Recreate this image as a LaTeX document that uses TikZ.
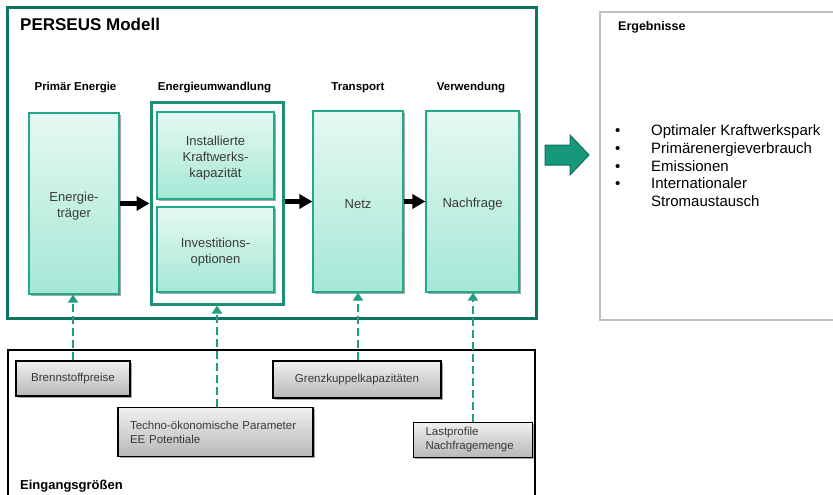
\documentclass[tikz,border=0pt]{standalone}
\usepackage{fontspec}
\setmainfont{Liberation Sans}
\usetikzlibrary{arrows.meta,shadows}

\definecolor{framegreen}{HTML}{0B7560}
\definecolor{boxedge}{HTML}{22A88A}
\definecolor{boxtop}{HTML}{E6F8F3}
\definecolor{boxbottom}{HTML}{A5E8D5}
\definecolor{dashgreen}{HTML}{1E9E84}
\definecolor{arrowfill}{HTML}{16997A}
\definecolor{arrowedge}{HTML}{0E6E57}
\definecolor{resultgray}{HTML}{BFBFBF}
\definecolor{boxtext}{HTML}{3A3A3A}

\tikzset{
  modelbox/.style={draw=boxedge, line width=1.2pt, top color=boxtop, bottom color=boxbottom,
    inner sep=0pt,
    drop shadow={shadow xshift=1.5pt, shadow yshift=-1.5pt, opacity=0.35, fill=black}},
  boxlabel/.style={inner sep=0pt, align=center, font=\fontsize{13}{16}\selectfont, text=boxtext, yshift=-2.5pt},
  groupbox/.style={draw=boxedge!85!black, line width=3pt, inner sep=0pt},
  inputbox/.style={draw=black, line width=1.2pt, top color=white!94!black, bottom color=white!72!black,
    inner sep=0pt, align=center, font=\fontsize{11.5}{14}\selectfont, text=boxtext,
    drop shadow={shadow xshift=1.5pt, shadow yshift=-1.5pt, opacity=0.35, fill=black}},
  header/.style={font=\fontsize{11.5}{14}\selectfont\bfseries, anchor=base},
  flow/.style={line width=4.5pt, -{Triangle[width=14pt,length=13pt]}},
  feed/.style={dashgreen, line width=1.8pt, dash pattern=on 8pt off 4pt,
    -{Triangle[width=10pt,length=8pt]}},
}

\begin{document}
\begin{tikzpicture}[x=1pt, y=-1pt]
\useasboundingbox (0,0) rectangle (833,495);

% model frame
\draw[framegreen, line width=3pt] (7,8) rectangle (536,318);
\node[anchor=base west, font=\fontsize{17}{20}\selectfont\bfseries, inner sep=0pt] (title) at (20,31) {PERSEUS Modell};

% column headers
\node[header] (hprim) at (75.5,90) {Primär Energie};
\node[header] (hconv) at (214.5,90) {Energieumwandlung};
\node[header] (htrans) at (358,90) {Transport};
\node[header] (huse) at (471,90) {Verwendung};

% model blocks
\node[modelbox, minimum width=90pt, minimum height=181pt] (carrier) at (74,203.5) {};
\node[groupbox, minimum width=132pt, minimum height=202pt] (group) at (217,203) {};
\node[modelbox, minimum width=117pt, minimum height=87pt] (capacity) at (215.5,155.5) {};
\node[modelbox, minimum width=117pt, minimum height=85pt] (invest) at (215.5,249.5) {};
\node[modelbox, minimum width=90pt, minimum height=181pt] (grid) at (358,201.5) {};
\node[modelbox, minimum width=93pt, minimum height=181pt] (demand) at (472.5,201.5) {};

\node[boxlabel] (carrier-text) at (carrier) {Energie-\\träger};
\node[boxlabel] (capacity-text) at (capacity) {Installierte\\Kraftwerks-\\kapazität};
\node[boxlabel] (invest-text) at (invest) {Investitions-\\optionen};
\node[boxlabel] (grid-text) at (grid) {Netz};
\node[boxlabel] (demand-text) at (demand) {Nachfrage};

% flow arrows
\draw[flow] (carrier.east) -- (group.west |- carrier.east);
\draw[flow] (group.east |- grid.west) -- (grid.west);
\draw[flow] (grid.east) -- (demand.west);

% results
\draw[resultgray, line width=2pt] (840,12) -- (600,12) -- (600,320) -- (840,320);
\node[anchor=base west, font=\fontsize{12.5}{15}\selectfont\bfseries, inner sep=0pt] (restitle) at (618,31) {Ergebnisse};
\node[anchor=north west, inner sep=0pt, font=\fontsize{15}{17.75}\selectfont] (reslist) at (615,123)
  {\begin{tabular}{@{}p{36pt}@{}l@{}}
   • & Optimaler Kraftwerkspark\\
   • & Primärenergieverbrauch\\
   • & Emissionen\\
   • & Internationaler\\
     & Stromaustausch
   \end{tabular}};
\draw[arrowedge, fill=arrowfill, line width=1pt] (545,145) -- (570,145) -- (570,135) -- (589,155)
  -- (570,175) -- (570,165) -- (545,165) -- cycle;

% inputs
\draw[black, line width=2.5pt] (8,500) -- (8,350) -- (535,350) -- (535,500);
\node[anchor=base west, font=\fontsize{13}{15}\selectfont\bfseries, inner sep=0pt] (intitle) at (20,489) {Eingangsgrößen};

\node[inputbox, minimum width=114pt, minimum height=35pt] (fuel) at (73,378.5) {Brennstoffpreise};
\node[inputbox, align=left, text width=171pt, inner xsep=12pt, minimum height=49pt] (techno) at (215.5,432)
  {Techno-ökonomische Parameter\\EE Potentiale};
\node[inputbox, minimum width=168pt, minimum height=37pt] (border) at (357,379.5) {Grenzkuppelkapazitäten};
\node[inputbox, align=left, text width=95pt, inner xsep=12pt, minimum height=35pt] (load) at (473,440)
  {Lastprofile\\Nachfragemenge};

% input feeds
\draw[feed] (fuel.north) -- (fuel.north |- carrier.south);
\draw[feed] (techno.north -| group.south) -- (group.south);
\draw[feed] (border.north -| grid.south) -- (grid.south);
\draw[feed] (load.north) -- (load.north |- demand.south);
\end{tikzpicture}
\end{document}
